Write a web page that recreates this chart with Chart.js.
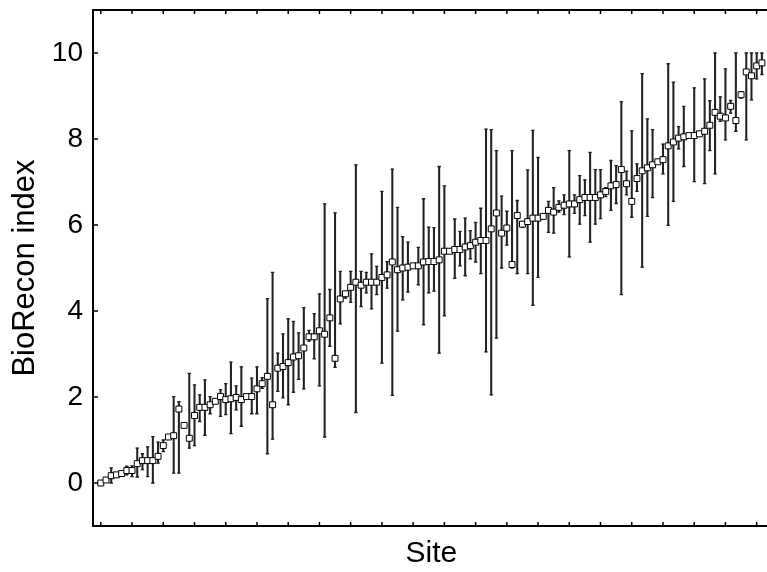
<!DOCTYPE html>
<html>
<head>
<meta charset="utf-8">
<script src="https://cdn.jsdelivr.net/npm/chart.js@4.4.0/dist/chart.umd.min.js"></script>
<style>
  html, body { margin: 0; padding: 0; overflow: hidden; background: #fff; }
  #wrap { width: 775px; height: 572px; }
</style>
</head>
<body>
<div id="wrap"><canvas id="mycanvas" width="775" height="572"></canvas></div>
<script>
// BioRecon index per site (sites sorted), with upper / lower error limits
var siteValue = [
  0.00, 0.07, 0.17, 0.19, 0.22, 0.29, 0.29, 0.45, 0.52, 0.52,
  0.52, 0.62, 0.87, 1.07, 1.10, 1.72, 1.34, 1.04, 1.57, 1.76,
  1.76, 1.82, 1.90, 2.01, 1.94, 1.96, 1.99, 1.94, 2.01, 2.01,
  2.19, 2.31, 2.48, 1.82, 2.67, 2.71, 2.80, 2.93, 2.96, 3.14,
  3.40, 3.40, 3.54, 3.46, 3.84, 2.90, 4.28, 4.40, 4.55, 4.67,
  4.60, 4.67, 4.67, 4.67, 4.78, 4.84, 5.14, 4.96, 5.00, 5.02,
  5.05, 5.05, 5.14, 5.15, 5.15, 5.19, 5.39, 5.39, 5.43, 5.43,
  5.49, 5.52, 5.60, 5.64, 5.64, 5.91, 6.28, 5.81, 5.93, 5.08,
  6.22, 6.02, 6.08, 6.16, 6.16, 6.20, 6.34, 6.30, 6.41, 6.46,
  6.49, 6.49, 6.59, 6.64, 6.64, 6.64, 6.70, 6.78, 6.91, 6.94,
  7.29, 6.96, 6.55, 7.08, 7.26, 7.33, 7.40, 7.47, 7.52, 7.84,
  7.93, 8.02, 8.05, 8.08, 8.08, 8.12, 8.18, 8.32, 8.62, 8.53,
  8.49, 8.76, 8.43, 9.03, 9.56, 9.47, 9.70, 9.77
];
var errHigh = [
  0.00, 0.07, 0.35, 0.19, 0.22, 0.39, 0.40, 0.81, 0.68, 0.84,
  1.08, 0.95, 1.00, 1.07, 2.01, 1.89, 1.34, 2.55, 2.28, 2.05,
  2.40, 2.01, 1.90, 2.17, 2.31, 2.81, 2.26, 2.70, 2.01, 2.44,
  2.70, 2.45, 4.29, 4.90, 3.02, 3.47, 3.82, 3.76, 3.49, 4.08,
  3.55, 3.94, 4.40, 6.49, 4.50, 6.28, 4.92, 4.45, 4.92, 7.40,
  4.92, 4.90, 5.33, 5.04, 6.78, 5.15, 7.30, 6.41, 5.73, 5.60,
  5.05, 5.48, 6.61, 5.95, 5.94, 7.36, 6.91, 5.39, 6.14, 5.85,
  6.16, 5.87, 6.06, 6.39, 8.23, 8.22, 7.73, 6.67, 6.32, 7.73,
  6.57, 6.08, 7.28, 8.20, 7.57, 6.20, 6.55, 6.87, 6.56, 6.70,
  7.73, 6.70, 7.15, 7.05, 7.69, 7.29, 7.29, 6.87, 7.50, 7.38,
  8.87, 7.25, 8.19, 7.42, 9.52, 8.47, 8.22, 7.47, 7.88, 9.75,
  9.32, 8.29, 8.76, 8.08, 9.19, 8.12, 9.40, 8.89, 10.0, 8.98,
  9.63, 8.90, 10.0, 9.10, 10.0, 10.0, 10.0, 10.0
];
var errLow = [
  0.00, 0.07, 0.00, 0.19, 0.22, 0.19, 0.15, 0.14, 0.31, 0.15,
  0.00, 0.46, 0.73, 1.07, 0.23, 0.23, 1.34, 0.81, 0.87, 1.43,
  1.11, 1.61, 1.90, 1.55, 1.59, 1.15, 1.70, 1.32, 2.01, 1.61,
  1.61, 2.20, 0.68, 1.02, 2.13, 1.98, 1.82, 2.11, 2.41, 2.19,
  3.30, 2.89, 2.26, 1.07, 3.18, 2.69, 3.70, 4.30, 4.20, 1.64,
  4.10, 4.42, 4.05, 4.38, 2.79, 4.53, 2.04, 3.53, 4.26, 4.44,
  5.05, 4.61, 3.68, 4.42, 4.46, 3.02, 3.89, 5.39, 4.76, 5.05,
  4.82, 5.21, 5.14, 4.87, 3.05, 2.05, 3.37, 5.00, 5.53, 5.00,
  4.87, 5.95, 4.87, 4.13, 4.78, 6.20, 5.83, 5.81, 6.30, 6.24,
  5.26, 6.27, 6.02, 6.22, 5.60, 6.02, 6.15, 6.66, 6.34, 6.50,
  4.38, 6.70, 6.18, 6.78, 5.02, 6.20, 6.64, 7.47, 7.19, 5.99,
  6.55, 7.77, 7.36, 8.08, 7.01, 8.12, 6.96, 7.73, 7.19, 8.41,
  7.98, 8.60, 8.18, 8.95, 7.98, 8.91, 9.40, 9.50
];
// tick marks (site index positions) and y labels
var xTicks = [0, 6, 12, 18, 24, 30, 36, 42, 48, 54, 60, 66, 72, 78, 84, 90, 96, 102, 108, 114, 120, 126];
var yTicks = [0, 2, 4, 6, 8, 10];

var FONT = "'Liberation Sans', Arial, sans-serif";

var ptData = [], barData = [], hiData = [], loData = [];
for (var i in siteValue) {
  var s = Number(i);
  ptData.push({x: s, y: siteValue[i]});
  barData.push({x: s, y: [errLow[i], errHigh[i]]});
  hiData.push({x: s, y: errHigh[i]});
  loData.push({x: s, y: errLow[i]});
}

// frame + inward tick marks
var framePlugin = {
  id: 'frame',
  afterDraw: function(chart) {
    var ctx = chart.ctx, a = chart.chartArea;
    var xs = chart.scales.x, ys = chart.scales.y;
    ctx.save();
    ctx.strokeStyle = '#000';
    ctx.lineWidth = 2;
    ctx.beginPath();
    ctx.moveTo(a.left, a.top); ctx.lineTo(a.right, a.top);
    ctx.lineTo(a.right, a.bottom); ctx.lineTo(a.left, a.bottom);
    ctx.closePath();
    ctx.stroke();
    ctx.lineWidth = 1.5;
    ctx.beginPath();
    xTicks.forEach(function(t) {
      var px = xs.getPixelForValue(t);
      ctx.moveTo(px, a.bottom); ctx.lineTo(px, a.bottom - 4);
      ctx.moveTo(px, a.top); ctx.lineTo(px, a.top + 4);
    });
    yTicks.forEach(function(t) {
      var py = ys.getPixelForValue(t);
      ctx.moveTo(a.left, py); ctx.lineTo(a.left + 5, py);
    });
    ctx.stroke();
    ctx.restore();
  }
};

var ctx = document.getElementById('mycanvas').getContext('2d');
new Chart(ctx, {
  type: 'scatter',
  data: {
    datasets: [
      {
        type: 'bar',
        data: barData,
        backgroundColor: '#222',
        borderWidth: 0,
        barThickness: 1.4,
        order: 3
      },
      {
        data: hiData,
        pointStyle: 'line',
        radius: 1.7,
        borderColor: '#222',
        borderWidth: 1.3,
        order: 2
      },
      {
        data: loData,
        pointStyle: 'line',
        radius: 1.7,
        borderColor: '#222',
        borderWidth: 1.3,
        order: 2
      },
      {
        data: ptData,
        pointStyle: 'rect',
        radius: 4.2,
        backgroundColor: '#fff',
        borderColor: '#000',
        borderWidth: 1,
        order: 1
      }
    ]
  },
  options: {
    responsive: false,
    animation: false,
    events: [],
    layout: { padding: { left: 0, top: 10, right: 0, bottom: 0 } },
    plugins: { legend: { display: false }, tooltip: { enabled: false } },
    scales: {
      x: {
        type: 'linear',
        min: -1.5,
        max: 128.5,
        offset: false,
        grid: { display: false, drawTicks: false },
        border: { display: false },
        ticks: { display: false },
        title: { display: true, text: 'Site', color: '#000', font: { family: FONT, size: 30 }, padding: { top: 0, bottom: 0 } },
        afterFit: function(scale) { scale.height = 46; scale.paddingLeft = 0; scale.paddingRight = 0; }
      },
      y: {
        min: -1,
        max: 11,
        grid: { display: false, drawTicks: false },
        border: { display: false },
        afterBuildTicks: function(scale) {
          scale.ticks = yTicks.map(function(v) { return {value: v}; });
        },
        ticks: { color: '#000', padding: 10, font: { family: FONT, size: 28 } },
        title: { display: true, text: 'BioRecon index', color: '#000', font: { family: FONT, size: 31 }, padding: { top: 7, bottom: 0 } },
        afterFit: function(scale) { scale.width = 93; scale.paddingTop = 0; scale.paddingBottom = 0; }
      }
    }
  },
  plugins: [framePlugin]
});
</script>
</body>
</html>
